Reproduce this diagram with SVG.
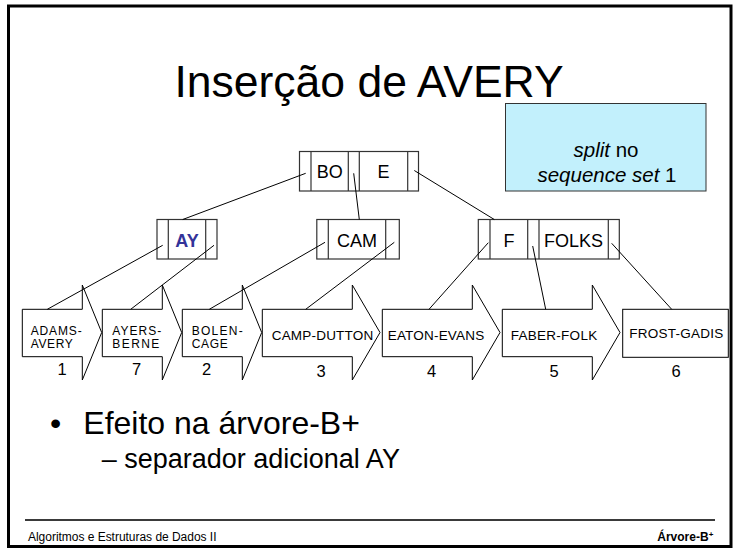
<svg xmlns="http://www.w3.org/2000/svg" width="734" height="549" viewBox="0 0 734 549">
<style>
text { font-family: "Liberation Sans", Arial, sans-serif; fill: #000; }
.node rect { fill: #fff; stroke: #333; stroke-width: 1.2; }
.node line { stroke: #333; stroke-width: 1.2; }
.key { font-size: 18px; text-anchor: middle; }
.leaf path, .leaf rect { fill: #fff; stroke: #000; stroke-width: 1; }
.lt { font-size: 12px; }
.ls { font-size: 13.5px; }
.num { font-size: 16.5px; text-anchor: middle; }
.conn line { stroke: #000; stroke-width: 1; }
</style>
<rect x="0" y="0" width="734" height="549" fill="#fff"/>
<rect x="8.5" y="6" width="722.5" height="540.5" fill="#fff" stroke="#000" stroke-width="3"/>

<text x="369" y="97" font-size="44.5" text-anchor="middle">Inserção de AVERY</text>

<g id="info">
<rect x="505.5" y="103.5" width="200.5" height="87.5" fill="#C2F0FC" stroke="#333" stroke-width="1"/>
<text x="606" y="157" font-size="20.5" text-anchor="middle"><tspan font-style="italic">split</tspan> no</text>
<text x="607" y="182" font-size="20.5" text-anchor="middle"><tspan font-style="italic">sequence set</tspan> 1</text>
</g>

<g id="node-root" class="node">
<rect x="299.5" y="151.5" width="119" height="39.5"/>
<line x1="311" y1="151.5" x2="311" y2="191"/>
<line x1="348.3" y1="151.5" x2="348.3" y2="191"/>
<line x1="359.3" y1="151.5" x2="359.3" y2="191"/>
<line x1="407.7" y1="151.5" x2="407.7" y2="191"/>
<text class="key" x="329.7" y="177.5">BO</text>
<text class="key" x="383.5" y="177.5">E</text>
</g>

<g id="node-ay" class="node">
<rect x="157" y="219.5" width="60" height="39.5"/>
<line x1="168.3" y1="219.5" x2="168.3" y2="259"/>
<line x1="205.7" y1="219.5" x2="205.7" y2="259"/>
<text class="key" x="187" y="246.5" font-weight="bold" style="fill:#333399">AY</text>
</g>

<g id="node-cam" class="node">
<rect x="316.8" y="219.5" width="82.5" height="39.5"/>
<line x1="328.3" y1="219.5" x2="328.3" y2="259"/>
<line x1="385.7" y1="219.5" x2="385.7" y2="259"/>
<text class="key" x="357" y="247">CAM</text>
</g>

<g id="node-folks" class="node">
<rect x="478.3" y="219.5" width="141" height="39.5"/>
<line x1="490" y1="219.5" x2="490" y2="259"/>
<line x1="527.7" y1="219.5" x2="527.7" y2="259"/>
<line x1="539" y1="219.5" x2="539" y2="259"/>
<line x1="608.3" y1="219.5" x2="608.3" y2="259"/>
<text class="key" x="509" y="247">F</text>
<text class="key" x="573.5" y="247">FOLKS</text>
</g>

<g id="leaf-1" class="leaf">
<path d="M22.3,309.3 H82.3 V285 L101.7,332.5 L82.3,380 V356.7 H22.3 Z"/>
<text class="lt" x="30.7" y="334.5" textLength="51">ADAMS-</text>
<text class="lt" x="30.7" y="348" textLength="42">AVERY</text>
<text class="num" x="62" y="375">1</text>
</g>
<g id="leaf-7" class="leaf">
<path d="M102.3,309.3 H162.3 V285 L181.7,332.5 L162.3,380 V356.7 H102.3 Z"/>
<text class="lt" x="112.3" y="334.5" textLength="49">AYERS-</text>
<text class="lt" x="112.3" y="348" textLength="47">BERNE</text>
<text class="num" x="136.5" y="375">7</text>
</g>
<g id="leaf-2" class="leaf">
<path d="M182.3,309.3 H242.3 V285 L261.7,332.5 L242.3,380 V356.7 H182.3 Z"/>
<text class="lt" x="191.7" y="334.5" textLength="51">BOLEN-</text>
<text class="lt" x="191.7" y="348" textLength="36">CAGE</text>
<text class="num" x="206.7" y="375">2</text>
</g>
<g id="leaf-3" class="leaf">
<path d="M262.3,309.3 H352.3 V285 L380,332.5 L352.3,380 V356.7 H262.3 Z"/>
<text class="ls" x="271.7" y="340" textLength="101.5">CAMP-DUTTON</text>
<text class="num" x="321" y="376.5">3</text>
</g>
<g id="leaf-4" class="leaf">
<path d="M382.3,309.3 H472.3 V285 L500,332.5 L472.3,380 V356.7 H382.3 Z"/>
<text class="ls" x="387.7" y="340" textLength="96.5">EATON-EVANS</text>
<text class="num" x="431.5" y="376.5">4</text>
</g>
<g id="leaf-5" class="leaf">
<path d="M502.3,309.3 H592.3 V285 L620,332.5 L592.3,380 V356.7 H502.3 Z"/>
<text class="ls" x="510.7" y="340" textLength="86.5">FABER-FOLK</text>
<text class="num" x="554" y="376.5">5</text>
</g>
<g id="leaf-6" class="leaf">
<rect x="622.7" y="309.3" width="105.6" height="48"/>
<text class="ls" x="629.3" y="338" textLength="94">FROST-GADIS</text>
<text class="num" x="676" y="376.5">6</text>
</g>

<g id="connectors" class="conn">
<line x1="305.7" y1="173.3" x2="182.7" y2="219.5"/>
<line x1="353.7" y1="173.3" x2="359.3" y2="219.5"/>
<line x1="414.3" y1="170.5" x2="494.3" y2="219.5"/>
<line x1="162.7" y1="245.3" x2="47.3" y2="309.3"/>
<line x1="214" y1="245.3" x2="130.7" y2="309.3"/>
<line x1="325" y1="242.3" x2="209.3" y2="309.3"/>
<line x1="394.3" y1="242.3" x2="305.7" y2="309.3"/>
<line x1="488.3" y1="242.7" x2="429" y2="309.3"/>
<line x1="532.7" y1="246" x2="545.7" y2="309.3"/>
<line x1="611.7" y1="243.3" x2="671.7" y2="309.3"/>
</g>

<text x="50" y="433.5" font-size="32">•</text>
<text x="83.3" y="433.5" font-size="32">Efeito na árvore-B+</text>
<text x="101.7" y="467.5" font-size="27">– separador adicional AY</text>

<line x1="25" y1="520" x2="715" y2="520" stroke="#3a3a3a" stroke-width="2"/>
<text x="28" y="541" font-size="12" textLength="188.5">Algoritmos e Estruturas de Dados II</text>
<text x="713.3" y="541" font-size="12" font-weight="bold" text-anchor="end">Árvore-B<tspan font-size="8" dy="-4">+</tspan></text>
</svg>
